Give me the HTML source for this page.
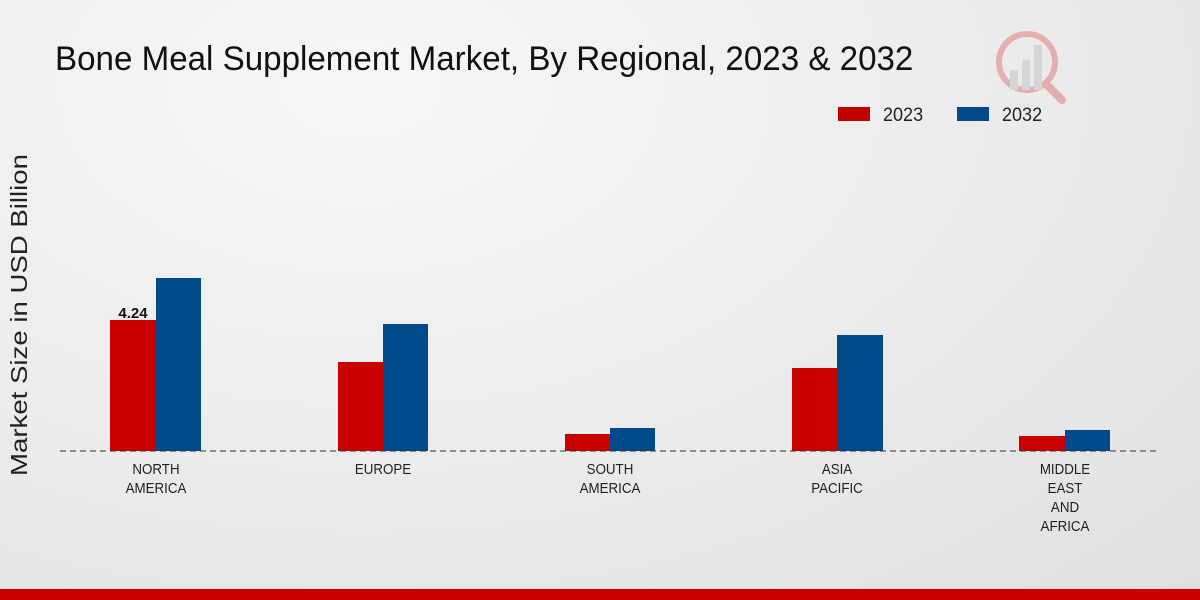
<!DOCTYPE html>
<html><head><style>
body{margin:0;width:1200px;height:600px;overflow:hidden;font-family:"Liberation Sans",sans-serif;}
#bg{position:absolute;left:0;top:0;width:1200px;height:600px;background:radial-gradient(ellipse at 30% 15%,#f7f7f7 0%,#ececec 50%,#e0e0e0 100%);}
</style></head><body>
<div id="bg"></div>
<svg width="1200" height="600" style="position:absolute;left:0;top:0" font-family="Liberation Sans, sans-serif">
<text x="55" y="70" font-size="34" fill="#111" transform="translate(55 0) scale(0.975 1) translate(-55 0)">Bone Meal Supplement Market, By Regional, 2023 &amp; 2032</text>
<g opacity="0.25">
<circle cx="1027" cy="62" r="28" fill="none" stroke="#c00" stroke-width="6"/>
<rect x="1010" y="70" width="8" height="20" fill="#999"/><rect x="1022" y="60" width="8" height="30" fill="#999"/><rect x="1034" y="45" width="8" height="45" fill="#999"/>
<line x1="1048" y1="86" x2="1062" y2="100" stroke="#c00" stroke-width="8" stroke-linecap="round"/>
</g>
<rect x="838" y="107" width="32" height="14" fill="#c00000"/>
<text x="883" y="121" font-size="19" fill="#222" transform="translate(883 0) scale(0.95 1) translate(-883 0)">2023</text>
<rect x="957" y="107" width="32" height="14" fill="#004a8a"/>
<text x="1002" y="121" font-size="19" fill="#222" transform="translate(1002 0) scale(0.95 1) translate(-1002 0)">2032</text>
<text transform="translate(27 315) rotate(-90) scale(1.2 1)" font-size="23" fill="#222" text-anchor="middle">Market Size in USD Billion</text>
<g fill="#c80000">
<rect x="110" y="320" width="46" height="131"/><rect x="338" y="362" width="45" height="89"/><rect x="565" y="434" width="45" height="17"/><rect x="792" y="368" width="45" height="83"/><rect x="1019" y="436" width="46" height="15"/>
</g>
<g fill="#004a8a">
<rect x="156" y="278" width="45" height="173"/><rect x="383" y="324" width="45" height="127"/><rect x="610" y="428" width="45" height="23"/><rect x="837" y="335" width="46" height="116"/><rect x="1065" y="430" width="45" height="21"/>
</g>
<line x1="60" y1="451" x2="1160" y2="451" stroke="#333" stroke-dasharray="6,4" stroke-width="1"/>
<text x="133" y="318" font-size="15" font-weight="bold" fill="#111" text-anchor="middle">4.24</text>
<g font-size="14.5" fill="#222" text-anchor="middle">
<g transform="translate(156 0) scale(0.92 1)"><text y="474">NORTH</text><text y="493">AMERICA</text></g>
<g transform="translate(383 0) scale(0.92 1)"><text y="474">EUROPE</text></g>
<g transform="translate(610 0) scale(0.92 1)"><text y="474">SOUTH</text><text y="493">AMERICA</text></g>
<g transform="translate(837 0) scale(0.92 1)"><text y="474">ASIA</text><text y="493">PACIFIC</text></g>
<g transform="translate(1065 0) scale(0.92 1)"><text y="474">MIDDLE</text><text y="493">EAST</text><text y="512">AND</text><text y="531">AFRICA</text></g>
</g>
<rect x="0" y="589" width="1200" height="11" fill="#c80000"/>
</svg>
</body></html>
